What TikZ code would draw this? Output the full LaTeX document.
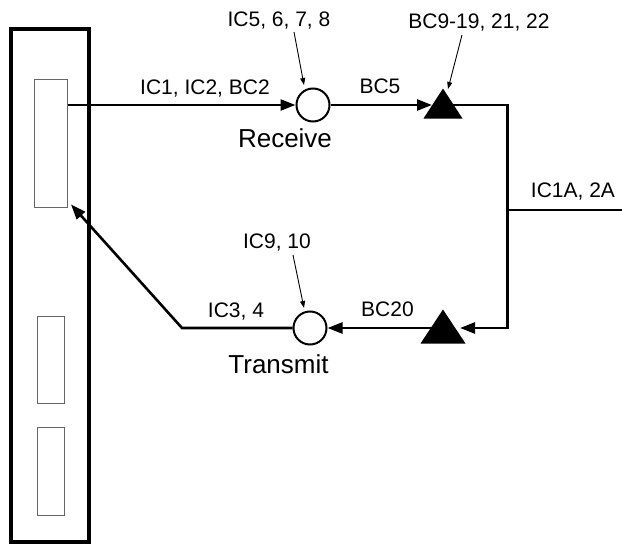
\documentclass[tikz,border=0pt]{standalone}
\usepackage{fontspec}
\setmainfont{Liberation Sans}
\usetikzlibrary{shapes.geometric,arrows.meta}
\begin{document}
\begin{tikzpicture}[x=1pt,y=-1pt,
  main/.style={line width=2.6pt},
  mainarrow/.style={main,-{Triangle[length=15pt,width=11pt]}},
  thinarrow/.style={line width=0.9pt,-{Triangle[length=7pt,width=5pt]}},
  lab/.style={font=\fontsize{21}{23}\selectfont, inner sep=0pt, anchor=base},
  biglab/.style={font=\fontsize{26}{28}\selectfont, inner sep=0pt, anchor=base},
  slot/.style={draw=black!60, line width=1pt, inner sep=0pt},
  junction/.style={circle, draw, line width=2pt, minimum size=33pt, inner sep=0pt},
  amp/.style={isosceles triangle, shape border rotate=90, isosceles triangle stretches, fill=black, inner sep=0pt, anchor=apex}
]
\useasboundingbox (0,0) rectangle (622,546);

% rack and slots
\node[draw, line width=4pt, minimum width=78.5pt, minimum height=513pt, inner sep=0pt] (rack) at (49.75,285.5) {};
\node[slot, minimum width=33.5pt, minimum height=128pt] (r1) at (50.75,143) {};
\node[slot, minimum width=27.5pt, minimum height=87pt] (r2) at (50.75,359.5) {};
\node[slot, minimum width=27.5pt, minimum height=88pt] (r3) at (50.75,471) {};

% junctions and amplifiers
\node[junction] (c1) at (313,105) {};
\node[junction] (c2) at (310,328) {};
\node[amp, minimum width=39pt, minimum height=30pt] (t1) at (443,88) {};
\node[amp, minimum width=45pt, minimum height=34pt] (t2) at (443,309) {};

\coordinate (tap) at (507.5,210);
\coordinate (ext) at (622,210);
\coordinate (bend) at (182,328);

% labels
\node[lab] (l1) at (205,94) {IC1, IC2, BC2};
\node[lab] (l5) at (279,27) {IC5, 6, 7, 8};
\node[lab] (lbc9) at (479,28) {BC9-19, 21, 22};
\node[lab] (lbc5) at (380,93) {BC5};
\node[biglab] (lrec) at (285,147) {Receive};
\node[lab] (l1a) at (573,197) {IC1A, 2A};
\node[lab] (l9) at (277,248) {IC9, 10};
\node[lab] (l3) at (236,317) {IC3, 4};
\node[lab] (lbc20) at (387.5,316) {BC20};
\node[biglab] (ltx) at (278.5,373) {Transmit};

% connectors
\draw[mainarrow] (r1.east |- c1) -- (c1);
\draw[mainarrow, shorten >=11pt] (c1) -- (c1 -| t1.apex);
\draw[mainarrow, shorten >=17pt] (c1 -| t1.apex) -- (c1 -| tap) -- (tap |- c2) -- (c2 -| t2.apex);
\draw[main] (tap) -- (ext);
\draw[mainarrow] (c2 -| t2.apex) -- (c2);
\draw[mainarrow] (c2) -- (bend) -- ([xshift=3pt,yshift=3pt]r1.south east);

% annotation arrows
\draw[thinarrow] ([xshift=15pt,yshift=-5pt]l5.base) -- ([xshift=-9pt,yshift=20pt]c1.center);
\draw[thinarrow] ([xshift=-17pt,yshift=-7pt]lbc9.base) -- ([xshift=5pt,yshift=-1pt]t1.apex);
\draw[thinarrow] ([xshift=16pt,yshift=-7pt]l9.base) -- ([xshift=-6pt,yshift=20pt]c2.center);
\end{tikzpicture}
\end{document}
